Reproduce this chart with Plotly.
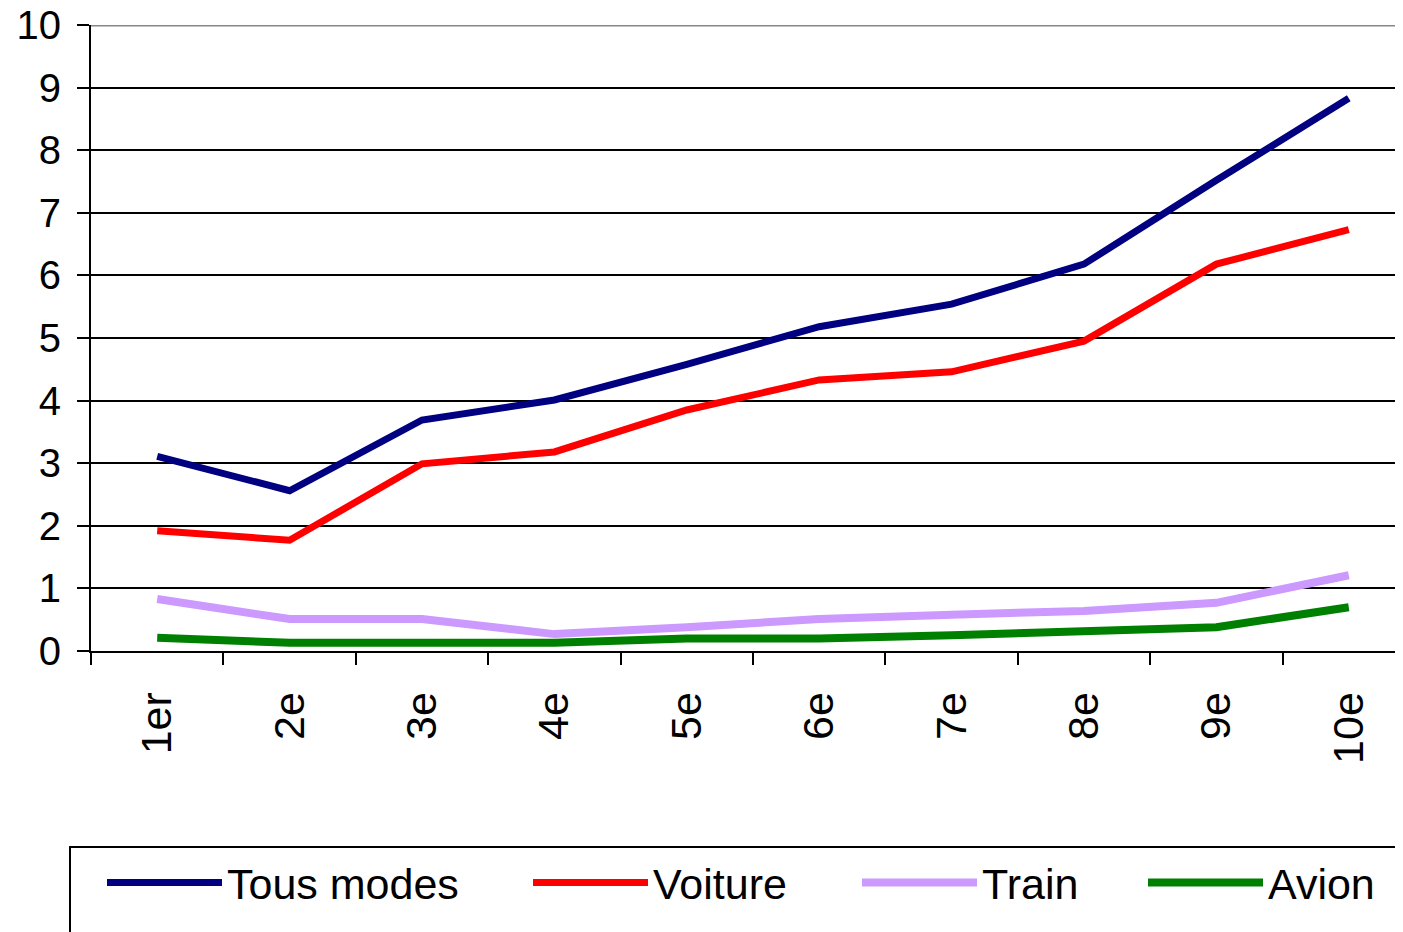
import plotly.graph_objects as go

categories = ["1er", "2e", "3e", "4e", "5e", "6e", "7e", "8e", "9e", "10e"]
tous_modes = [3.11, 2.56, 3.69, 4.01, 4.58, 5.18, 5.54, 6.18, 7.52, 8.83]
voiture = [1.92, 1.77, 2.99, 3.18, 3.85, 4.33, 4.46, 4.95, 6.18, 6.73]
train = [0.83, 0.51, 0.51, 0.27, 0.38, 0.51, 0.58, 0.64, 0.77, 1.21]
avion = [0.21, 0.13, 0.13, 0.13, 0.20, 0.20, 0.25, 0.32, 0.38, 0.70]
y_ticks = list(range(0, 11))

series = [
    ("Tous modes", tous_modes, "#000080", 7),
    ("Voiture", voiture, "#FF0000", 7),
    ("Train", train, "#CC99FF", 8),
    ("Avion", avion, "#008000", 8),
]
# left edge (page px) of each legend line sample
legend_line_x = [107, 533, 862, 1148]

font_family = "Liberation Sans, Arial, sans-serif"

W, H = 1403, 932
OFF = 8  # page body margin
left_pg, top_pg, bottom_pg = 91, 25, 651
l = left_pg - OFF
t = top_pg - OFF
b = H - (bottom_pg - OFF)

fig = go.Figure()
legend_layouts = {}
for i, (name, vals, color, w) in enumerate(series):
    lid = "legend" if i == 0 else f"legend{i + 1}"
    fig.add_trace(go.Scatter(
        x=categories, y=vals, mode="lines", name=name,
        line=dict(color=color, width=w), legend=lid,
    ))
    legend_layouts[lid] = dict(
        orientation="h",
        xref="container", yref="container",
        x=(legend_line_x[i] - OFF - 5) / W, y=1 - (848 - OFF) / H,
        xanchor="left", yanchor="top",
        itemwidth=115,
        font=dict(family=font_family, size=43, color="black"),
        borderwidth=0, bgcolor="rgba(0,0,0,0)",
    )

fig.update_layout(
    width=W, height=H,
    margin=dict(l=l, r=0, t=t, b=b, pad=0, autoexpand=False),
    paper_bgcolor="white", plot_bgcolor="white",
    font=dict(family=font_family, size=40, color="black"),
    showlegend=True,
    xaxis=dict(
        type="category",
        range=[-0.5, 9.47],
        tickson="boundaries",
        ticks="outside", ticklen=12, tickwidth=2, tickcolor="black",
        tickangle=-90,
        tickfont=dict(size=43),
        showgrid=False,
        showline=True, linecolor="black", linewidth=2,
        zeroline=False,
        ticklabelstandoff=22,
        ticklabeloverflow="allow",
        automargin=False,
    ),
    yaxis=dict(
        range=[0, 10],
        tickvals=y_ticks,
        ticks="outside", ticklen=12, tickwidth=2, tickcolor="black",
        tickfont=dict(size=40),
        showgrid=True, gridcolor="black", gridwidth=2,
        showline=True, linecolor="black", linewidth=2,
        zeroline=False,
        ticklabelstandoff=8,
        ticklabeloverflow="allow",
        automargin=False,
    ),
    **legend_layouts,
)

# gray top border line at y=10
fig.add_shape(type="line", xref="paper", yref="y", x0=0, x1=1, y0=10, y1=10,
              line=dict(color="#888888", width=3), layer="above")

# legend box (clipped by the figure edges, as in the original)
plot_h = bottom_pg - top_pg
plot_w = W - l
fig.add_shape(type="rect", xref="paper", yref="paper",
              x0=(70 - left_pg) / plot_w, x1=(W + 40 - left_pg) / plot_w,
              y0=(bottom_pg - (H + 40)) / plot_h, y1=(bottom_pg - 847) / plot_h,
              line=dict(color="black", width=2), fillcolor="rgba(0,0,0,0)", layer="below")

fig.write_html("out.html")
